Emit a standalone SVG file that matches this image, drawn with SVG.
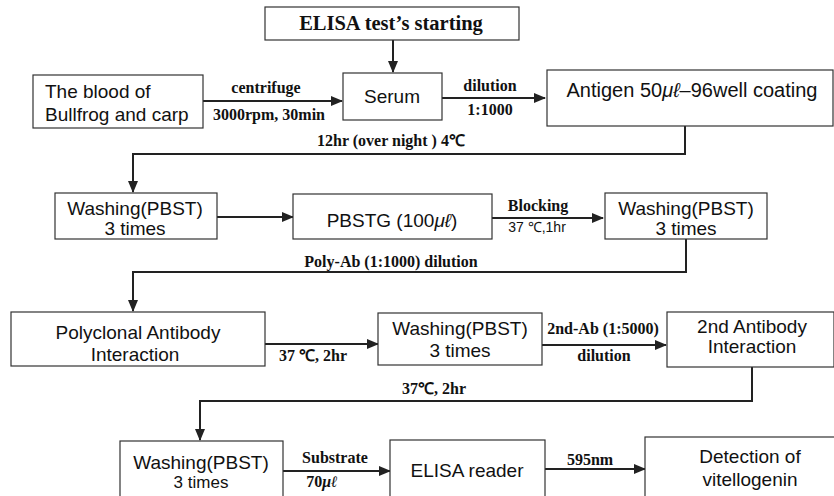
<svg xmlns="http://www.w3.org/2000/svg" width="834" height="496" viewBox="0 0 834 496">
<defs>
<marker id="ah" markerWidth="12" markerHeight="10" refX="11" refY="5" orient="auto" markerUnits="userSpaceOnUse">
<path d="M0,0 L12,5 L0,10 Z" fill="#222"/>
</marker>
<style>
.box{fill:#fff;stroke:#333;stroke-width:1.2}
.t{font-family:"Liberation Sans",Arial,sans-serif;font-size:19px;fill:#111;text-anchor:middle}
.lb{font-family:"Liberation Serif","Times New Roman",serif;font-weight:bold;font-size:16px;fill:#111;text-anchor:middle}
.ls{font-family:"Liberation Sans",Arial,sans-serif;font-size:14px;fill:#111;text-anchor:middle}
.c{fill:none;stroke:#222;stroke-width:2}
</style>
</defs>
<rect width="834" height="496" fill="#fff"/>
<g id="connectors">
<path class="c" d="M393,40 V72" marker-end="url(#ah)"/>
<path class="c" d="M203,101 H342" marker-end="url(#ah)"/>
<path class="c" d="M442,98 H545" marker-end="url(#ah)"/>
<path class="c" d="M685,126 V154 H133 V192" marker-end="url(#ah)"/>
<path class="c" d="M217,217 H293" marker-end="url(#ah)"/>
<path class="c" d="M492,218 H603" marker-end="url(#ah)"/>
<path class="c" d="M686,239 V272 H133 V311" marker-end="url(#ah)"/>
<path class="c" d="M265,344 H378" marker-end="url(#ah)"/>
<path class="c" d="M542,345 H666" marker-end="url(#ah)"/>
<path class="c" d="M752,367 V401 H200 V440" marker-end="url(#ah)"/>
<path class="c" d="M283,471 H390" marker-end="url(#ah)"/>
<path class="c" d="M545,469 H645" marker-end="url(#ah)"/>
<text class="lb" x="266" y="93">centrifuge</text>
<text class="lb" x="269" y="120">3000rpm, 30min</text>
<text class="lb" x="490" y="91">dilution</text>
<text class="lb" x="490" y="115">1:1000</text>
<text class="lb" x="391" y="146">12hr (over night ) 4℃</text>
<text class="lb" x="538" y="211">Blocking</text>
<text class="ls" x="537" y="232">37 ℃,1hr</text>
<text class="lb" x="391" y="267">Poly-Ab (1:1000) dilution</text>
<text class="lb" x="313" y="361">37 ℃, 2hr</text>
<text class="lb" x="603" y="334">2nd-Ab (1:5000)</text>
<text class="lb" x="604" y="361">dilution</text>
<text class="lb" x="434" y="394">37℃, 2hr</text>
<text class="lb" x="335" y="463">Substrate</text>
<text class="lb" x="322" y="487">70<tspan font-style="italic">μℓ</tspan></text>
<text class="lb" x="590" y="465">595nm</text>
</g>
<g id="title">
<rect class="box" x="265" y="7" width="254" height="33"/>
<text x="391" y="30" font-family="Liberation Serif,Times New Roman,serif" font-weight="bold" font-size="20.5" text-anchor="middle" fill="#111">ELISA test’s starting</text>
</g>
<g id="blood">
<rect class="box" x="33" y="75" width="170" height="53"/>
<text class="t" x="45" y="98" style="text-anchor:start">The blood of</text>
<text class="t" x="45" y="121" style="text-anchor:start">Bullfrog and carp</text>
</g>
<g id="serum">
<rect class="box" x="343" y="73" width="99" height="47"/>
<text class="t" x="392" y="103">Serum</text>
</g>
<g id="antigen">
<rect class="box" x="547" y="70" width="286" height="56"/>
<text class="t" x="692" y="97" style="font-size:20px">Antigen 50<tspan font-style="italic">μℓ</tspan>–96well coating</text>
</g>
<g id="washing1">
<rect class="box" x="55" y="193" width="162" height="46"/>
<text class="t" x="135" y="215">Washing(PBST)</text>
<text class="t" x="135" y="235">3 times</text>
</g>
<g id="pbstg">
<rect class="box" x="293" y="194" width="199" height="45"/>
<text class="t" x="392" y="227">PBSTG (100<tspan font-style="italic">μℓ</tspan>)</text>
</g>
<g id="washing2">
<rect class="box" x="605" y="193" width="162" height="46"/>
<text class="t" x="686" y="215">Washing(PBST)</text>
<text class="t" x="686" y="235">3 times</text>
</g>
<g id="polyclonal">
<rect class="box" x="11" y="312" width="254" height="54"/>
<text class="t" x="138" y="339">Polyclonal Antibody</text>
<text class="t" x="135" y="361">Interaction</text>
</g>
<g id="washing3">
<rect class="box" x="378" y="313" width="164" height="52"/>
<text class="t" x="460" y="335">Washing(PBST)</text>
<text class="t" x="460" y="357">3 times</text>
</g>
<g id="second">
<rect class="box" x="667" y="312" width="167" height="55"/>
<text class="t" x="752" y="333">2nd Antibody</text>
<text class="t" x="752" y="353">Interaction</text>
</g>
<g id="washing4">
<rect class="box" x="120" y="441" width="163" height="60"/>
<text class="t" x="201" y="469">Washing(PBST)</text>
<text class="t" x="201" y="488" style="font-size:17px">3 times</text>
</g>
<g id="reader">
<rect class="box" x="390" y="440" width="155" height="60"/>
<text class="t" x="467" y="477">ELISA reader</text>
</g>
<g id="detection">
<rect class="box" x="645" y="437" width="190" height="63"/>
<text class="t" x="750" y="463">Detection of</text>
<text class="t" x="750" y="486">vitellogenin</text>
</g>
</svg>
